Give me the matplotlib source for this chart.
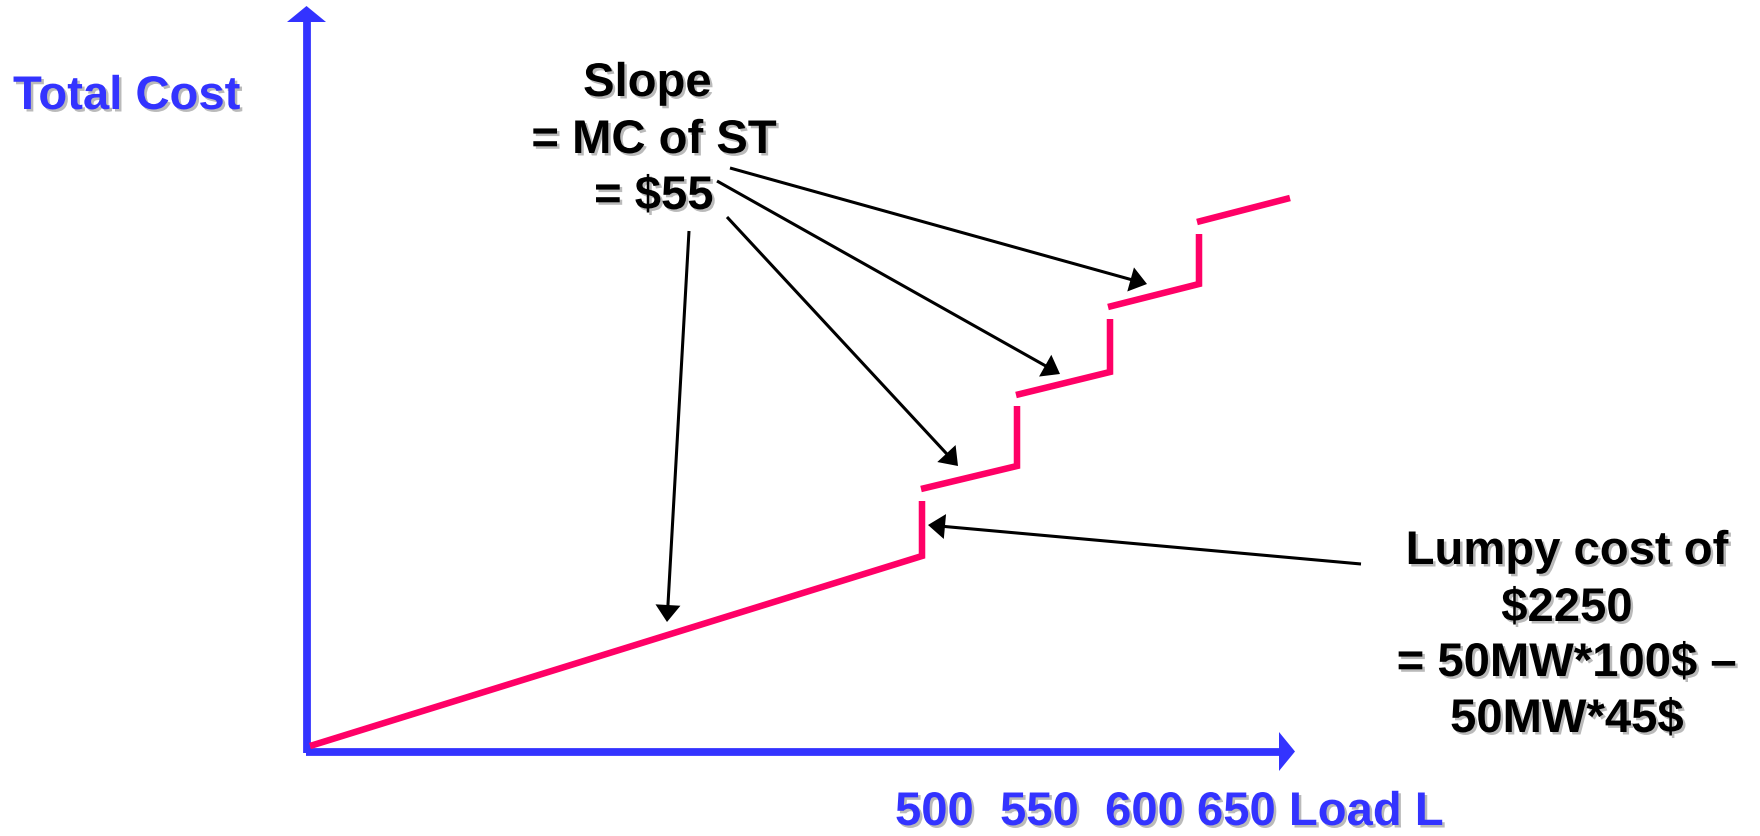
import numpy as np
import matplotlib.pyplot as plt
import matplotlib.patheffects as pe

# Step cost curve (schematic units: x = load axis, y = total cost axis)
seg_x0 = [4, 615, 710, 802, 891]
seg_y0 = [5, 262, 356, 444, 529]
seg_x1 = [616, 711, 804, 893, 984]
seg_y1 = [195, 285, 379, 467, 553]
rise_top = [250, 345, 432, 517, None]  # top of the jump after each segment

load_ticks = ["500", "550", "600", "650"]

# callout arrows: (start, tip)
slope_arrows = [((383, 520), (361, 129)),
                ((421, 534), (652, 285)),
                ((411, 570), (754, 377)),
                ((424, 583), (841, 467))]
lumpy_arrow = ((1055, 187), (622, 226))

BLUE = "#3333FF"
PINK = "#FF0066"

fig = plt.figure(figsize=(17.6, 8.37), dpi=100)
ax = fig.add_axes([0, 0, 1, 1])
ax.set_xlim(-306, 1454)
ax.set_ylim(-85, 752)
ax.axis("off")


def arrow(start, tip, lw, head_len, head_w, color):
    s = np.array(start, float)
    t = np.array(tip, float)
    u = (t - s) / np.hypot(*(t - s))
    n = np.array([-u[1], u[0]])
    base = t - head_len * u
    ax.plot([s[0], base[0] + u[0]], [s[1], base[1] + u[1]], color=color,
            lw=lw, solid_capstyle="butt", zorder=3)
    tri = np.array([t, base + head_w * n, base - head_w * n])
    ax.fill(tri[:, 0], tri[:, 1], color=color, lw=0, zorder=3)


# axes
arrow((0.5, -1.5), (0.5, 745), 5.6, 16, 19.5, BLUE)
arrow((0, -0.5), (989, -0.5), 5.6, 16, 19.5, BLUE)

# cost curve
for i in range(len(seg_x0)):
    xs = [seg_x0[i], seg_x1[i]]
    ys = [seg_y0[i], seg_y1[i]]
    if rise_top[i] is not None:
        xs.append(seg_x1[i])
        ys.append(rise_top[i])
    ax.plot(xs, ys, color=PINK, lw=4.7, solid_capstyle="butt",
            solid_joinstyle="miter", zorder=4)

for s, t in slope_arrows:
    arrow(s, t, 2.2, 17, 12.5, "black")
arrow(*lumpy_arrow, 2.2, 17, 12.5, "black")

shadow = [pe.withSimplePatchShadow(offset=(1.8, -1.8), shadow_rgbFace="0.55", alpha=0.6)]
font = dict(family="Liberation Sans", weight="bold", fontsize=34,
            path_effects=shadow)

ax.text(-293, 642, "Total Cost", color=BLUE, ha="left", va="baseline", **font)

xlabel = "  ".join(load_ticks[:3]) + " " + load_ticks[3] + " Load L"
ax.text(589, -84, xlabel, color=BLUE, ha="left", va="bottom", **font)

for txt, y in zip(["Slope ", "= MC of ST", "= $55"], [655, 598, 542]):
    ax.text(348, y, txt, color="black", ha="center", va="baseline", **font)

for txt, y in zip(["Lumpy cost of", "$2250", "= 50MW*100$ \u2013", "50MW*45$"],
                  [187, 130, 75, 19]):
    ax.text(1261, y, txt, color="black", ha="center", va="baseline", **font)

fig.savefig("out.png", dpi=100)
